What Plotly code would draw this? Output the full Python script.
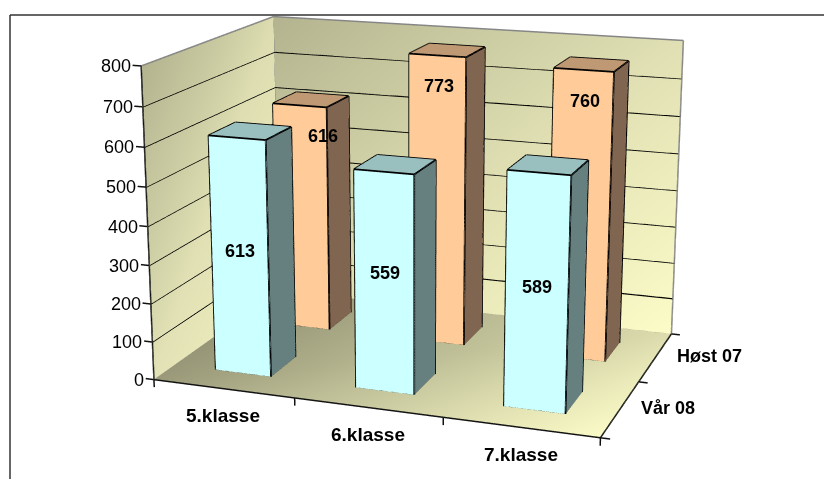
import plotly.graph_objects as go

categories = ["5.klasse", "6.klasse", "7.klasse"]
series_names = ["Vår 08", "Høst 07"]
vaar_08 = [613, 559, 589]
host_07 = [616, 773, 760]
z_ticks = [0, 100, 200, 300, 400, 500, 600, 700, 800]

W, H = 824, 479
FOV = 0.25699
EYE = dict(x=1.8856, y=-5.3877, z=1.5299)
CENTER = dict(x=0.0069, y=-0.1148, z=-0.0732)
UP = dict(x=-0.0011, y=-0.0042, z=1)
ASPECT_X, ASPECT_Y, ASPECT_Z = 1.4413, 0.9846, 1.0

x_range = [-0.3, 3.3]
y_range = [-0.2, 2.2]
z_range = [-80, 880]
aspect = dict(x=ASPECT_X*3.6/3, y=ASPECT_Y*2.4/2, z=ASPECT_Z*960/800)

BAR_W = 0.40
BAR_D = 0.40
FRONT = ["#ccffff", "#ffcc99"]
TOP = ["#99bfbf", "#bf9973"]
SIDE = ["#668080", "#806650"]
# where each data label sits on its bar: share of the bar height, sideways pixel nudge
LABEL_SHARE = [[0.53, 0.547, 0.527], [0.867, 0.898, 0.895]]
LABEL_NUDGE = [[0, 1, 0], [23, 2, 2]]

fig = go.Figure()
NOHOVER = dict(hoverinfo="skip", showlegend=False)
FLAT = dict(ambient=1, diffuse=0, specular=0, fresnel=0, roughness=1)

def quad(xs, ys, zs, colors):
    fig.add_trace(go.Mesh3d(x=xs, y=ys, z=zs, i=[0,0], j=[1,2], k=[2,3], vertexcolor=colors,
                            lighting=FLAT, flatshading=False, **NOHOVER))

zm = z_ticks[-1]
quad([0,3,3,0],[0,0,2,2],[0,0,0,0],["#9a9a7a","#fbfbc8","#dcdcae","#8f8f72"])
quad([0,0,0,0],[0,2,2,0],[0,0,zm,zm],["#e2e2b6","#f0f0c0","#dcdcb0","#b3b38f"])
quad([0,3,3,0],[2,2,2,2],[0,0,zm,zm],["#d8d8ac","#fcfcc8","#e0e0b4","#b3b38f"])

def lines(segs, color, width):
    xs, ys, zs = [], [], []
    for a, b in segs:
        xs += [a[0], b[0], None]; ys += [a[1], b[1], None]; zs += [a[2], b[2], None]
    fig.add_trace(go.Scatter3d(x=xs, y=ys, z=zs, mode="lines", line=dict(color=color, width=width), **NOHOVER))

grid = []
for v in z_ticks[1:-1]:
    grid += [((0,0,v),(0,2,v)), ((0,2,v),(3,2,v))]
lines(grid, "#000000", 3)
lines([((0,0,zm),(0,2,zm)),((0,2,zm),(3,2,zm)),((0,2,0),(0,2,zm)),((3,2,0),(3,2,zm)),
       ((0,0,0),(0,2,0)),((0,2,0),(3,2,0))], "#868686", 3)
axis = [((0,0,0),(3,0,0)),((3,0,0),(3,2,0)),((0,0,0),(0,0,zm))]
for v in z_ticks:
    axis.append(((-0.06,0,v),(0,0,v)))
for i in range(4):
    axis.append(((i,0,0),(i,0,-20)))
for j in range(3):
    axis.append(((3,j,0),(3.06,j,0)))
lines(axis, "#111111", 3)

for s, vals in enumerate([vaar_08, host_07]):
    for c, v in enumerate(vals):
        x0, x1 = c+0.5-BAR_W/2, c+0.5+BAR_W/2
        y0, y1 = s+0.5-BAR_D/2, s+0.5+BAR_D/2
        vx = [x0,x1,x1,x0,x0,x1,x1,x0]
        vy = [y0,y0,y1,y1,y0,y0,y1,y1]
        vz = [0,0,0,0,v,v,v,v]
        fi = [0,0, 1,1, 4,4, 0,0, 3,3, 0,0]
        fj = [1,5, 2,6, 5,6, 3,7, 2,6, 1,2]
        fk = [5,4, 6,5, 6,7, 7,4, 6,7, 2,3]
        cols = [FRONT[s]]*2+[SIDE[s]]*2+[TOP[s]]*2+[FRONT[s]]*2+[FRONT[s]]*2+[TOP[s]]*2
        fig.add_trace(go.Mesh3d(x=vx, y=vy, z=vz, i=fi, j=fj, k=fk, facecolor=cols,
                                lighting=FLAT, flatshading=True, **NOHOVER))
        e = [(0,1),(1,2),(4,5),(5,6),(6,7),(7,4),(0,4),(1,5),(2,6)]
        lines([((vx[a],vy[a],vz[a]),(vx[b],vy[b],vz[b])) for a,b in e], "#000000", 3.5)

ann = []
FONT = "Liberation Sans, Arial, sans-serif"
def label(x,y,z,t,size,bold=False,xa="center",xs=0,ys=0):
    ann.append(dict(x=x,y=y,z=z,text=f"<b>{t}</b>" if bold else t,showarrow=False,xanchor=xa,yanchor="middle",
                    xshift=xs,yshift=ys,font=dict(family=FONT,size=size,color="#000000")))
for v in z_ticks:
    label(0,0,v,str(v),18,xa="right",xs=-8)
for i,c in enumerate(categories):
    label(i+0.5,0,0,c,19,True,ys=-27)
for j,s in enumerate(series_names):
    label(3,j+0.5,0,s,18,True,xa="left",xs=19,ys=1)
for s, vals in enumerate([vaar_08, host_07]):
    for c, v in enumerate(vals):
        label(c+0.5, s+0.5-BAR_D/2, v*LABEL_SHARE[s][c], str(v), 18, True, xs=LABEL_NUDGE[s][c])

axcfg = dict(visible=False, showgrid=False, showspikes=False, showbackground=False)
fig.update_layout(
    width=W, height=H, margin=dict(l=0,r=0,t=0,b=0), paper_bgcolor="white", showlegend=False,
    scene=dict(domain=dict(x=[0,1],y=[0,1]),
        xaxis=dict(range=x_range, **axcfg), yaxis=dict(range=y_range, **axcfg), zaxis=dict(range=z_range, **axcfg),
        aspectmode="manual", aspectratio=aspect,
        camera=dict(projection=dict(type="perspective"), eye=EYE, center=CENTER, up=UP),
        annotations=ann),
    shapes=[dict(type="line",xref="paper",yref="paper",x0=10/W,x1=1,y0=1-15/H,y1=1-15/H,line=dict(color="#333333",width=1.5)),
            dict(type="line",xref="paper",yref="paper",x0=10/W,x1=10/W,y0=0,y1=1-15/H,line=dict(color="#333333",width=1.5))],
)
post = """
document.body.style.margin='0';
var gd=document.getElementById('{plot_id}');
var g=gd._fullLayout.scene._scene.glplot;
g.fovy=%f; g.redraw();
""" % FOV
fig.write_html("out.html", post_script=post, config=dict(displayModeBar=False))
